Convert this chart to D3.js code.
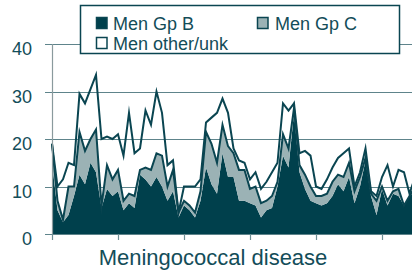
<!DOCTYPE html>
<html>
<head>
<meta charset="utf-8">
<script src="https://cdn.jsdelivr.net/npm/d3@7"></script>
<style>
  html, body { margin: 0; padding: 0; background: #ffffff; }
  svg { display: block; }
</style>
</head>
<body>
<svg id="chart" width="412" height="271"></svg>
<script>
// ---- data (monthly counts) ----
const menB = [15, 5, 2.5, 4, 8, 12.5, 10.5, 15, 13, 5.5, 9.5, 8, 9, 5, 6.5, 5.5, 12.5, 11.5, 10, 12, 10, 7, 9, 3.5,
  6, 5, 3.5, 7, 14, 10.5, 8.5, 17, 12, 12, 7, 7, 6.5, 6, 3.5, 5, 5.5, 10, 16.5, 14,
  25.5, 13, 9.5, 7, 6.5, 6, 6.5, 8, 10.5, 9, 12, 6.5, 10, 15.5, 8, 4, 9.5, 6, 8.5, 8, 6, 8, 9];
const menC = [4, 2, 0.5, 6, 2, 9, 7, 5, 9, 0.5, 5, 3.5, 4.5, 2, 2, 2.5, 1, 2.5, 3.5, 5, 6.5, 3, 4.5, 1,
  1, 1, 1, 2, 7.5, 8.5, 6.5, 6, 6.5, 5, 6.5, 6.5, 3, 4, 3, 2, 2.5, 1, 4.5, 4,
  1, 1.5, 3, 3, 1.5, 2, 2, 3, 2, 3, 3, 2.5, 2, 0.5, 0.5, 3, 0.5, 1, 0.5, 1.5, 0, 0, 1];
const menOther = [0, 3, 8.5, 5, 4.5, 8, 10, 10.5, 11.5, 14, 6, 8.5, 7.5, 9.5, 17, 9, 4.5, 12, 9.5, 13, 9, 4.5, 2, 0,
  3, 4, 5.5, 2.5, 2, 5.5, 10.5, 5.5, 7, 1, 2, 1.5, 2, 3, 3, 4, 5, 4, 6.5, 8,
  1, 2.5, 5, 6.5, 2, 1.5, 3, 3, 3.5, 5, 3, 1, 1, 2, 0.5, 1, 2, 7.5, 1, 4, 7, 0.5, 2];
const seriesKeys = ["Men Gp B", "Men Gp C", "Men other/unk"];
const yTicks = [0, 10, 20, 30, 40];
const xTickMonths = [0, 12, 24, 36, 48, 60];
const xTitle = "Meningococcal disease";

// ---- styles ----
const dark = "#00404c";
const mid = "#9bb2b5";
const lineCol = "#0a4551";
const gridCol = "#5e848b";
const textCol = "#134d59";
const font = "'Liberation Sans', Arial, Helvetica, sans-serif";

const months = d3.range(menB.length);
const table = months.map(i => ({
  month: i,
  "Men Gp B": menB[i],
  "Men Gp C": menC[i],
  "Men other/unk": menOther[i]
}));

const svg = d3.select("#chart");
const x = d3.scaleLinear().domain([0, 12]).range([52, 118]);
const y = d3.scaleLinear().domain([0, 40]).range([234, 44]);

const stacked = d3.stack().keys(seriesKeys)(table);

// gridlines
svg.append("g").selectAll("line").data(yTicks).join("line")
  .attr("x1", 45).attr("x2", 412)
  .attr("y1", d => Math.round(y(d)) + 0.5).attr("y2", d => Math.round(y(d)) + 0.5)
  .attr("stroke", gridCol).attr("stroke-width", 1.2);

// y tick labels
svg.append("g").selectAll("text").data(yTicks).join("text")
  .attr("x", 32).attr("y", d => y(d) + 11)
  .attr("text-anchor", "end")
  .attr("font-family", font).attr("font-size", 18)
  .attr("fill", textCol)
  .text(d => d);

const area = d3.area()
  .x(d => x(d.data.month))
  .y0(d => y(d[0]))
  .y1(d => y(d[1]));
const topLine = d3.line()
  .x(d => x(d.data.month))
  .y(d => y(d[1]));

const fills = [dark, mid, "none"];
const g = svg.append("g");
stacked.forEach((s, i) => {
  if (fills[i] !== "none") {
    g.append("path").datum(s).attr("d", area).attr("fill", fills[i]).attr("stroke", "none");
  }
});
// boundary lines for C top and total
[1, 2].forEach(i => {
  g.append("path").datum(stacked[i]).attr("d", topLine)
    .attr("fill", "none").attr("stroke", lineCol)
    .attr("stroke-width", 2).attr("stroke-linejoin", "miter").attr("stroke-miterlimit", 10);
});

// y axis line
svg.append("line").attr("x1", 52.5).attr("x2", 52.5).attr("y1", y(40)).attr("y2", y(0) + 1)
  .attr("stroke", "#8a9a9d").attr("stroke-width", 1.2);

// x ticks
svg.append("g").selectAll("line").data(xTickMonths).join("line")
  .attr("x1", d => Math.round(x(d)) + 0.5).attr("x2", d => Math.round(x(d)) + 0.5)
  .attr("y1", y(0)).attr("y2", y(0) + 6)
  .attr("stroke", "#6f8e94").attr("stroke-width", 1.2);

// x title
svg.append("text")
  .attr("x", 213).attr("y", 265)
  .attr("text-anchor", "middle")
  .attr("font-family", font).attr("font-size", 22)
  .attr("fill", textCol)
  .text(xTitle);

// legend
const lg = svg.append("g");
lg.append("rect").attr("x", 80.5).attr("y", 5.5).attr("width", 319).attr("height", 48)
  .attr("fill", "#ffffff").attr("stroke", lineCol).attr("stroke-width", 1.5);
const legendItems = [
  { key: seriesKeys[0], fill: dark, mx: 96, tx: 113, row: 0 },
  { key: seriesKeys[1], fill: mid, mx: 257, tx: 275, row: 0 },
  { key: seriesKeys[2], fill: "#ffffff", mx: 96, tx: 113, row: 1 }
];
legendItems.forEach(it => {
  const cy = 17.5 + it.row * 20;
  lg.append("rect").attr("x", it.mx + 0.5).attr("y", cy).attr("width", 10.5).attr("height", 11)
    .attr("fill", it.fill).attr("stroke", lineCol).attr("stroke-width", 1.5);
  lg.append("text").attr("x", it.tx).attr("y", 29.5 + it.row * 20)
    .attr("font-family", font).attr("font-size", 18)
    .attr("fill", textCol).text(it.key);
});
</script>
</body>
</html>
